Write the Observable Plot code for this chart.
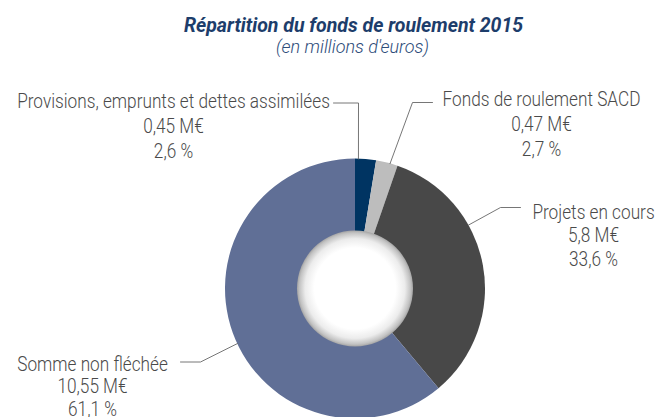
<!DOCTYPE html>
<html><head><meta charset="utf-8">
<script src="https://cdn.jsdelivr.net/npm/d3@7"></script>
<script src="https://cdn.jsdelivr.net/npm/@observablehq/plot@0.6"></script>
<style>body{margin:0;background:#fff} svg{display:block}</style>
</head><body><div id="chart"></div>
<script>
// ---- data ----
const categories = ["Provisions, emprunts et dettes assimilées", "Fonds de roulement SACD", "Projets en cours", "Somme non fléchée"];
const amounts = [0.45, 0.47, 5.8, 10.55];
const amountLabels = ["0,45 M€", "0,47 M€", "5,8 M€", "10,55 M€"];
const shares = [2.6, 2.7, 33.6, 61.1];
const shareLabels = ["2,6 %", "2,7 %", "33,6 %", "61,1 %"];
const titleText = "Répartition du fonds de roulement 2015";
const subtitleText = "(en millions d'euros)";

// ---- styles & layout ----
const colors = ["#003462", "#bdbdbd", "#484848", "#606f96"];
const W = 658, H = 417;
const cx = 355, cy = 288.5, rOuter = 130, rInner = 58;
const font = "Roboto, 'Noto Sans', sans-serif";
const fs = 20.5;
const layout = [
  {tx: 173, ty: 107, step: 25, lx0: 333, lx1: 358, ly: 102.5, angle: 1.3},
  {tx: 541, ty: 105, step: 25, lx0: 432, lx1: 412, ly: 102, angle: 15.4},
  {tx: 593, ty: 218, step: 23.5, lx0: 520, lx1: 500, ly: 207, angle: 60.5},
  {tx: 92, ty: 370, step: 22.5, lx0: 180, lx1: 200, ly: 361.5, angle: 245.2}
];
// horizontal condensing of label text (the original uses a condensed typeface)
const labelSqueeze = 0.84;

const colorScale = Plot.scale({color: {type: "ordinal", domain: categories, range: colors}});

const labelRows = [];
categories.forEach((c, i) => {
  [c, amountLabels[i], shareLabels[i]].forEach((t, k) => {
    labelRows.push({text: t, x: layout[i].tx, y: layout[i].ty + k * layout[i].step - 0.32 * fs});
  });
});

const leaderRows = [];
categories.forEach((c, i) => {
  const L = layout[i];
  const a = L.angle * Math.PI / 180;
  leaderRows.push({cat: c, x: L.lx0, y: L.ly});
  leaderRows.push({cat: c, x: L.lx1, y: L.ly});
  leaderRows.push({cat: c, x: cx + rOuter * Math.sin(a), y: cy - rOuter * Math.cos(a)});
});

function donut(index, scales) {
  const X = scales.x(cx), Y = scales.y(cy);
  const g = d3.create("svg:g");
  const grad = g.append("defs").append("radialGradient").attr("id", "holeGrad");
  grad.append("stop").attr("offset", "0.70").attr("stop-color", "#ffffff");
  grad.append("stop").attr("offset", "0.86").attr("stop-color", "#ececec");
  grad.append("stop").attr("offset", "0.96").attr("stop-color", "#c2c2c2");
  grad.append("stop").attr("offset", "1").attr("stop-color", "#a4a4a4");
  const pie = d3.pie().sort(null).value(i => shares[i])(d3.range(shares.length));
  const arc = d3.arc().innerRadius(0).outerRadius(rOuter);
  const gg = g.append("g").attr("transform", `translate(${X},${Y})`);
  gg.selectAll("path").data(pie).join("path")
    .attr("d", arc)
    .attr("fill", d => colorScale.apply(categories[d.data]));
  gg.append("circle").attr("r", rInner).attr("fill", "url(#holeGrad)");
  return g.node();
}

const chart = Plot.plot({
  width: W, height: H,
  margin: 0,
  x: {domain: [0, W], range: [0, W], axis: null},
  y: {domain: [0, H], range: [0, H], axis: null},
  style: {background: "#fff"},
  marks: [
    donut,
    Plot.line(leaderRows, {x: "x", y: "y", z: "cat", stroke: "#666", strokeWidth: 0.9}),
    Plot.text(labelRows, {x: "x", y: "y", text: "text", fontFamily: font, fontSize: fs, fontWeight: 300, fill: "#4a4a4a", textAnchor: "middle", className: "lbl"}),
    Plot.text([titleText], {x: () => 353, y: () => 31.5 - 0.32 * 19.5, text: d => d, fontFamily: font, fontSize: 19.5, fontWeight: "bold", fontStyle: "italic", fill: "#1d3d6b"}),
    Plot.text([subtitleText], {x: () => 352, y: () => 52 - 0.32 * 18, text: d => d, fontFamily: font, fontSize: 18, fontWeight: 300, fontStyle: "italic", fill: "#2e4d7a"})
  ]
});
document.getElementById("chart").appendChild(chart);

// condense labels horizontally around their anchor (keeps Plot's translate)
chart.querySelectorAll("g.lbl text").forEach(t => {
  const tr = t.getAttribute("transform") || "";
  t.setAttribute("transform", `${tr} scale(${labelSqueeze},1)`);
});
</script>
</body></html>
